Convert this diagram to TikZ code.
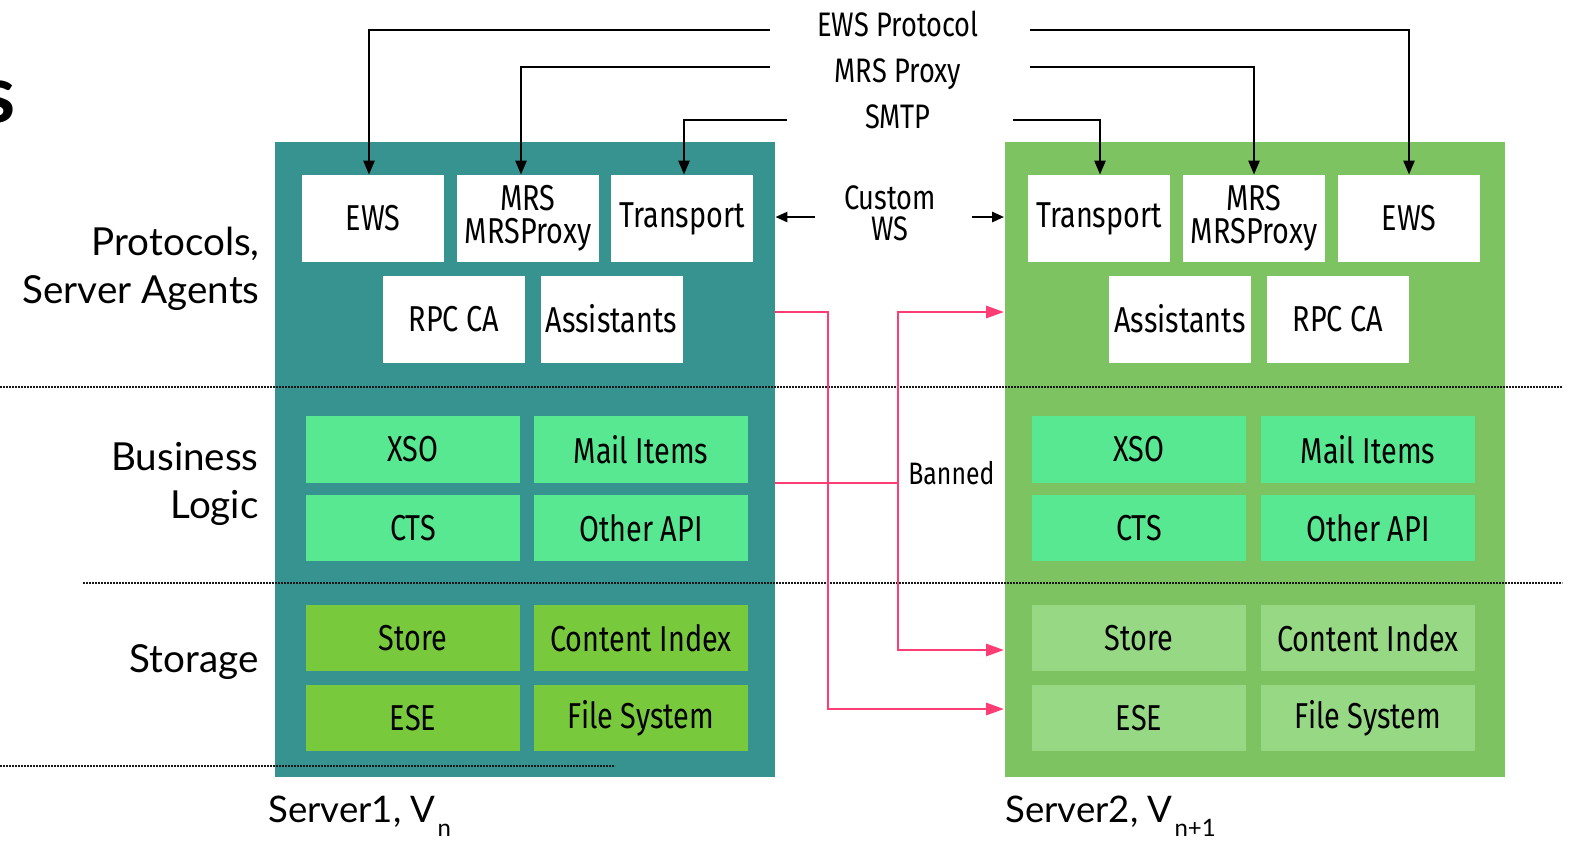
\documentclass[tikz,border=0pt]{standalone}
\usepackage{fontspec}
\setmainfont{Lato}
\newfontfamily\condf[FakeStretch=0.8]{Fira Sans}
\usetikzlibrary{arrows.meta,calc}
\definecolor{tealsrv}{HTML}{37938F}
\definecolor{greensrv}{HTML}{7DC362}
\definecolor{bizfill}{HTML}{57E891}
\definecolor{storeL}{HTML}{79C93D}
\definecolor{storeR}{HTML}{96D884}
\definecolor{banpink}{HTML}{FF3D75}
\tikzset{
  srv/.style={inner sep=0pt, minimum width=250pt, minimum height=317.5pt},
  pbox/.style={fill=white, inner sep=0pt, minimum width=71pt, minimum height=43.5pt,
    align=center, font=\condf\fontsize{18}{16.5}\selectfont},
  wbox/.style={inner sep=0pt, minimum width=107pt, minimum height=33.25pt,
    font=\condf\fontsize{18}{16}\selectfont},
  layerlbl/.style={anchor=east, align=right, inner sep=0pt, font=\fontsize{19.3}{24}\selectfont},
  toplbl/.style={anchor=base, align=center, inner sep=0pt, font=\condf\fontsize{17}{15.5}\selectfont},
  blackarrow/.style={draw=black, line width=1.25pt, -{Triangle[length=7pt,width=5.5pt]}},
  banline/.style={draw=banpink, line width=1.4pt},
  bantip/.style={banline, -{Triangle[length=9pt,width=6pt]}},
  sep/.style={draw=black!90, line width=1.3pt, dash pattern=on 1.2pt off 0.3pt},
}
\begin{document}
\begin{tikzpicture}[x=0.5pt,y=-0.5pt]
\useasboundingbox (0,0) rectangle (1572,843);

% cut title letter
\node[anchor=base east, inner sep=0pt, font=\bfseries\fontsize{40}{40}\selectfont] (ttl) at (16,122) {s};

% server containers
\node[srv, fill=tealsrv] (Lsrv) at (525,459.5) {};
\node[srv, fill=greensrv] (Rsrv) at (1254.5,459.5) {};

% layer labels
\node[layerlbl] (lblProt) at (260,269) {Protocols,\\Server Agents};
\node[layerlbl] (lblBiz) at (259,484) {Business\\Logic};
\node[layerlbl] (lblSto) at (259,662) {Storage};

% server 1: protocols and agents
\node[pbox] (ewsL) at (373,218.5) {EWS};
\node[pbox] (mrsL) at (528,218.5) {MRS\\MRSProxy};
\node[pbox] (trL) at (682,218.5) {Transport};
\node[pbox] (rpcL) at (454,319) {RPC CA};
\node[pbox] (asL) at (611.5,319) {Assistants};
% server 1: business logic
\node[wbox, fill=bizfill] (xsoL) at (413,449.5) {XSO};
\node[wbox, fill=bizfill] (mailL) at (641,449.5) {Mail Items};
\node[wbox, fill=bizfill] (ctsL) at (413,528) {CTS};
\node[wbox, fill=bizfill] (apiL) at (641,528) {Other API};
% server 1: storage
\node[wbox, fill=storeL] (storeL) at (413,638) {Store};
\node[wbox, fill=storeL] (ciL) at (641,638) {Content Index};
\node[wbox, fill=storeL] (eseL) at (413,718) {ESE};
\node[wbox, fill=storeL] (fsL) at (641,718) {File System};

% server 2: protocols and agents
\node[pbox] (trR) at (1099,218.5) {Transport};
\node[pbox] (mrsR) at (1254,218.5) {MRS\\MRSProxy};
\node[pbox] (ewsR) at (1409,218.5) {EWS};
\node[pbox] (asR) at (1180,319) {Assistants};
\node[pbox] (rpcR) at (1338,319) {RPC CA};
% server 2: business logic
\node[wbox, fill=bizfill] (xsoR) at (1139,449.5) {XSO};
\node[wbox, fill=bizfill] (mailR) at (1368,449.5) {Mail Items};
\node[wbox, fill=bizfill] (ctsR) at (1139,528) {CTS};
\node[wbox, fill=bizfill] (apiR) at (1368,528) {Other API};
% server 2: storage
\node[wbox, fill=storeR] (storeR) at (1139,638) {Store};
\node[wbox, fill=storeR] (ciR) at (1368,638) {Content Index};
\node[wbox, fill=storeR] (eseR) at (1139,718) {ESE};
\node[wbox, fill=storeR] (fsR) at (1368,718) {File System};

% layer separators
\draw[sep] (0,387) -- (1562,387);
\draw[sep] (83,583) -- (1562,583);
\draw[sep] (0,766) -- (615,766);

% protocol labels and feeds
\node[toplbl] (pEws) at (898,36) {EWS Protocol};
\node[toplbl] (pMrs) at (898,82) {MRS Proxy};
\node[toplbl] (pSmtp) at (898,128) {SMTP};
\coordinate (ewsLa) at (770,30);
\coordinate (ewsRa) at (1030,30);
\coordinate (mrsLa) at (770,67);
\coordinate (mrsRa) at (1030,67);
\coordinate (smtpLa) at (787,120);
\coordinate (smtpRa) at (1013,120);
\draw[blackarrow] (ewsLa) -| ([xshift=-2pt]ewsL.north);
\draw[blackarrow] (mrsLa) -| ([xshift=-3.5pt]mrsL.north);
\draw[blackarrow] (smtpLa) -| ([xshift=1pt]trL.north);
\draw[blackarrow] (ewsRa) -| (ewsR.north);
\draw[blackarrow] (mrsRa) -| (mrsR.north);
\draw[blackarrow] (smtpRa) -| ([xshift=0.5pt]trR.north);

% custom web service link
\node[anchor=center, align=center, inner sep=0pt, font=\condf\fontsize{17}{15.5}\selectfont] (cws) at (890,213) {Custom\\WS};
\coordinate (cwsL) at (815,217);
\coordinate (cwsR) at (972,217);
\draw[draw=black, line width=1.25pt, -{Triangle[length=6pt,width=5pt]}] (cwsL) -- (Lsrv.east |- cwsL);
\draw[draw=black, line width=1.25pt, -{Triangle[length=6pt,width=5pt]}] (cwsR) -- (Rsrv.west |- cwsR);

% banned direct links
\coordinate (bj) at (898,483);
\draw[bantip] (Lsrv.east |- 0,312) -- (828,312) |- (Rsrv.west |- 0,709);
\draw[banline] (Lsrv.east |- bj) -- (bj);
\draw[bantip] (bj) |- (Rsrv.west |- 0,312);
\draw[bantip] (bj) |- (Rsrv.west |- 0,650);
\node[anchor=base west, inner sep=0pt, font=\condf\fontsize{15.5}{15}\selectfont] (ban) at (908,484) {Banned};

% server captions
\node[anchor=base west, inner sep=0pt, font=\fontsize{18.3}{20}\selectfont] (cap1) at (268,822)
  {Server1, V\hspace{1pt}\raisebox{-7pt}{\fontsize{12}{12}\selectfont n}};
\node[anchor=base west, inner sep=0pt, font=\fontsize{18.3}{20}\selectfont] (cap2) at (1005,822)
  {Server2, V\hspace{1pt}\raisebox{-7pt}{\fontsize{12}{12}\selectfont n+1}};
\end{tikzpicture}
\end{document}
